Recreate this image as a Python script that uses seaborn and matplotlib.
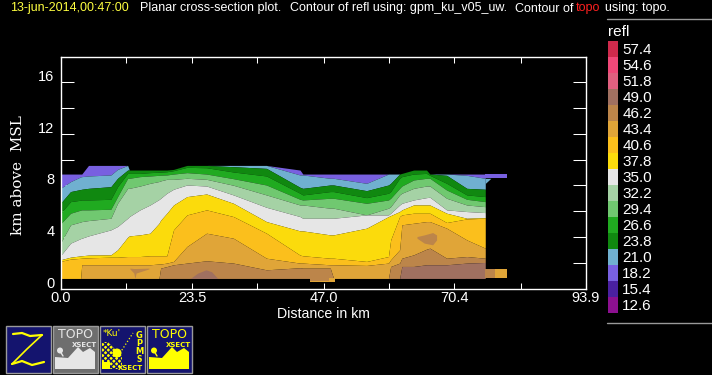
import numpy as np
import matplotlib
matplotlib.use("Agg")
import matplotlib.pyplot as plt
from matplotlib.colors import ListedColormap
from matplotlib.patches import Rectangle, Polygon, Circle
import seaborn as sns

# ---------- data ----------
levels = [57.4, 54.6, 51.8, 49.0, 46.2, 43.4, 40.6, 37.8, 35.0, 32.2, 29.4, 26.6, 23.8, 21.0, 18.2, 15.4, 12.6]
level_colors = ["#CF2A4C", "#F04878", "#E0607F", "#A07060", "#BC854A", "#E0A538", "#FBBF1C", "#FBDB0C", "#E6E6E6",
                "#A5D2A5", "#70C870", "#20AA20", "#108810", "#70B0D0", "#7860E0", "#4A20A0", "#8C1090"]
dist = [0, 1.8, 3.6, 3.8, 5, 9, 10.2, 12, 12.3, 14.2, 16, 17.6, 17.9, 19,
        20.2, 22.6, 26.1, 30.9, 36.8, 42.8, 43.3, 48.2, 48.8, 54.7, 58.6, 59.0,
        60.6, 61.0, 63.1, 65.4, 66, 69, 72.6, 75.9]
top_182 = [8.88,8.88,8.88,8.88,9.55,9.55,9.55,9.55,9.19,9.19,9.19,9.19,9.19,9.19,
           9.24,9.55,9.55,9.55,9.55,9.19,8.88,8.88,8.88,8.88,8.88,8.88,8.88,8.93,9.19,9.19,8.88,8.88,8.88,8.88]
top_210 = [7.77,8.29,8.66,8.68,8.73,8.81,9.24,9.55,9.19,9.19,9.19,9.19,9.19,9.19,
           9.24,9.55,9.55,9.55,9.55,8.81,8.81,8.55,8.55,8.16,8.88,8.88,8.88,8.93,9.19,9.19,8.88,8.88,8.78,8.55]
top_238 = [6.61,7.52,7.68,7.70,7.77,7.90,8.55,9.19,9.19,9.19,9.19,9.19,9.19,9.19,
           9.24,9.55,9.55,9.45,9.32,7.85,7.77,8.03,8.03,7.59,8.03,8.16,8.88,8.93,9.19,9.19,8.88,8.78,7.77,7.70]
top_266 = [5.84,6.74,6.85,6.87,6.87,6.92,7.90,8.93,8.93,8.93,8.99,9.02,9.03,9.06,
           9.14,9.40,9.37,9.04,8.73,7.39,7.26,7.52,7.52,7.05,7.39,7.52,8.55,8.68,8.88,8.93,8.78,8.16,7.26,7.13]
top_294 = [5.01,5.84,6.08,6.10,6.10,6.15,7.13,8.55,8.55,8.68,8.73,8.78,8.79,8.81,
           8.88,8.99,8.88,8.52,8.03,6.92,6.87,7.00,7.00,6.61,6.87,7.00,7.77,7.95,8.42,8.55,8.55,7.64,6.92,6.74]
top_322 = [3.52,4.94,5.16,5.19,5.27,5.45,6.61,7.77,7.77,7.95,8.16,8.30,8.35,8.47,
           8.47,8.55,8.47,8.01,7.26,6.48,6.48,6.23,6.23,5.71,6.23,6.35,7.26,7.39,7.77,7.95,7.95,7.00,6.48,6.35]
top_350 = [2.54,3.52,3.87,3.90,4.08,4.55,4.81,5.45,5.58,6.10,6.48,6.90,7.00,7.39,
           7.70,8.03,7.95,7.26,6.30,5.58,5.45,5.45,5.45,5.71,5.71,5.84,6.48,6.61,6.87,7.05,7.08,6.10,5.97,5.89]
top_378 = [2.23,2.43,2.53,2.54,2.59,2.61,3.00,3.98,4.08,4.16,4.29,5.06,5.30,5.84,
           6.48,7.13,7.33,6.61,5.19,4.47,4.47,4.16,4.16,4.68,5.58,5.66,5.97,6.10,6.48,6.48,6.48,5.84,5.45,5.50]
top_406 = [2.10,2.28,2.34,2.35,2.38,2.43,2.43,2.48,2.48,2.48,2.54,2.54,2.54,2.54,
           4.55,5.71,6.10,5.58,4.29,2.59,2.54,2.35,2.35,2.10,2.48,3.77,5.58,5.71,5.84,5.84,5.84,5.12,5.40,5.45]
top_434 = [.78,.78,.78,1.84,1.84,1.84,1.84,1.84,1.84,1.84,1.84,1.90,1.90,1.97,
           2.10,3.26,4.29,3.90,2.35,1.97,1.97,1.84,1.84,1.79,1.97,2.23,3.00,4.94,5.06,5.19,5.19,4.68,3.77,3.13]
top_462 = [.78,.78,.78,.78,.78,.78,.78,.78,.78,.78,.78,.78,1.58,1.70,
           1.84,1.97,2.15,1.97,1.45,1.61,1.58,1.58,.78,.78,.78,1.71,1.97,2.35,2.61,3.05,3.13,2.35,2.48,2.35]
top_490 = [.78]*27 + [1.71,1.71,1.84,1.84,1.84,1.97,2.02]
floor_km = [.78]*34
# isolated cells
cell_a_x, cell_a_top, cell_a_bot = [12.4,13.1,13.3,13.5,15.8], [1.58,1.55,1.55,1.55,1.58], [1.52,1.2,.78,1.2,1.52]
cell_b_x, cell_b_top, cell_b_bot = [63.7,65,66.5,67.2], [4.03,4.16,4.34,4.16], [3.90,3.52,3.39,3.77]
cell_c_x, cell_c_top, cell_c_bot = [23.2,24.5,26,27,28.1], [.78,1.19,1.45,1.3,.78], [.78,.78,.78,.78,.78]
under_x, under_bot = [44.6,49.0], [.47,.47]
under2_x, under2_bot = [44.6,47.9], [.62,.62]
x_ticks = [0.0, 23.5, 47.0, 70.4, 93.9]
x_minor = [11.74, 35.2, 58.7, 82.2]
y_ticks = [2, 4, 6, 8, 10, 12, 14, 16]
y_labels = [0, 4, 8, 12, 16]

# ---------- style ----------
sns.set_theme(style="dark", rc={"figure.facecolor": "black", "axes.facecolor": "black", "savefig.facecolor": "black",
                                "axes.edgecolor": "white", "text.color": "white", "xtick.color": "white",
                                "ytick.color": "white", "axes.grid": False})
plt.rcParams["font.family"] = ["Liberation Sans", "DejaVu Sans"]
W, H = 712, 375
fig = plt.figure(figsize=(W/100, H/100), dpi=100)

def box(l, t, r, b):
    return [l/W, 1-b/H, (r-l)/W, (b-t)/H]

ax = fig.add_axes(box(60.5, 56.5, 586, 288.5))
ax.set_xlim(0, 93.9); ax.set_ylim(0, 18)
for s in ax.spines.values():
    s.set_color("white"); s.set_linewidth(1)
palette = dict(zip(levels, sns.color_palette(level_colors)))

d = np.array(dist)
stack = [(18.2, top_182, top_210), (21.0, top_210, top_238), (23.8, top_238, top_266), (26.6, top_266, top_294),
         (29.4, top_294, top_322), (32.2, top_322, top_350), (35.0, top_350, top_378), (37.8, top_378, top_406),
         (40.6, top_406, top_434), (43.4, top_434, top_462), (46.2, top_462, top_490), (49.0, top_490, floor_km)]
for lev, upper, lower in stack:
    ax.fill_between(d, lower, upper, color=palette[lev], lw=0)
ax.fill_between(cell_a_x, cell_a_bot, cell_a_top, color=palette[46.2], lw=0)
ax.fill_between(cell_b_x, cell_b_bot, cell_b_top, color=palette[46.2], lw=0)
ax.fill_between(cell_c_x, cell_c_bot, cell_c_top, color=palette[49.0], lw=0)
ax.fill_between(under_x, under_bot, [.78, .78], color=palette[43.4], lw=0)
ax.fill_between(under2_x, under2_bot, [.78, .78], color=palette[46.2], lw=0)
# topography mask and the strips around it
ax.fill_between([75.9, 79.7], [8.55, 8.55], [8.88, 8.88], color=palette[18.2], lw=0)
ax.fill_between([75.9, 76.9], [8.15, 8.55], [8.55, 8.55], color=palette[21.0], lw=0)
ax.fill_between([75.9, 77.7], [.78, .78], [1.53, 1.53], color=palette[46.2], lw=0)
ax.fill_between([77.7, 79.7], [.78, .78], [1.53, 1.53], color=palette[43.4], lw=0)

# ticks drawn inside on all four sides
ax.set_xticks(sorted(x_ticks + x_minor)); ax.set_yticks(y_ticks)
ax.tick_params(axis="x", which="major", direction="in", length=4.5, width=.75, top=True, bottom=True, labelbottom=False, color="white")
ax.tick_params(axis="y", which="major", direction="in", length=9.5, width=.75, left=True, right=True, labelleft=False, color="white")
for v in x_ticks:
    ax.annotate(f"{v:.1f}", (v, 0), xycoords="data", xytext=(0, -3), textcoords="offset pixels",
                ha="center", va="top", fontsize=10.5, color="white", annotation_clip=False)
for v in y_labels:
    ax.annotate(f"{v}", (0, v), xycoords="data", xytext=(-6, 5), textcoords="offset pixels",
                ha="right", va="center", fontsize=10.5, color="white", annotation_clip=False)

# overlay in pixel coordinates for texts and icons
ov = fig.add_axes([0, 0, 1, 1], facecolor="none")
ov.set_xlim(0, W); ov.set_ylim(H, 0); ov.axis("off")
ov.text(277, 314, "Distance in km", ha="left", va="center", fontsize=10.2, color="white")
ov.text(18, 175, "km above  MSL", rotation=90, ha="center", va="center", fontsize=11, color="white", family=["DejaVu Serif"])
for x0, s, c in [(10, "13-jun-2014,00:47:00", "#FFFF40"),
                 (140, "Planar cross-section plot.", "white"),
                 (290, "Contour of refl using: gpm_ku_v05_uw.", "white"),
                 (515, "Contour of", "white"), (576, "topo", "#FF2020"), (605, "using: topo.", "white")]:
    ov.text(x0, 8.5, s, ha="left", va="center", fontsize=9, color=c)
ov.plot([607, 712], [19, 19], color="#999999", lw=1)
ov.plot([607, 712], [323, 323], color="#999999", lw=1)
ov.text(608, 32, "refl", ha="left", va="center", fontsize=11, color="white")

# colour scale
cax = fig.add_axes(box(608, 41, 618, 313))
sns.heatmap(np.array(levels).reshape(-1, 1), ax=cax, cmap=ListedColormap(level_colors[::-1]), cbar=False,
            xticklabels=False, yticklabels=[f"{v:.1f}" for v in levels], linewidths=0)
cax.yaxis.tick_right()
cax.tick_params(axis="y", length=0, pad=3, labelsize=11, labelcolor="white", labelrotation=0)

# icon buttons
NAVY, GREY, YEL = "#14146E", "#9A9A9A", "#FFFF00"
for x0, x1, face in [(5, 50.5, NAVY), (52, 97.5, "#6E6E6E"), (99, 144.5, NAVY), (146, 191.5, NAVY)]:
    ov.add_patch(Rectangle((x0+.5, 325.5), x1-x0, 47, fc=face, ec=GREY, lw=1))
ov.plot([13, 22, 30, 42], [334, 333, 336, 335], color=YEL, lw=1.6)
ov.plot([42, 27, 12], [335, 349, 364], color=YEL, lw=1.2)
ov.plot([12, 22, 32, 44], [364, 361, 365, 362], color=YEL, lw=1.6)
ridge_x = [0, 13, 23, 28, 35, 40]
ridge_y = [12, 11, 22, 17, 21, 17]
for x0, c in [(55, "#E6E6E6"), (149, YEL)]:
    pts = [(x0, 369)] + [(x0+a, 369-b) for a, b in zip(ridge_x, ridge_y)] + [(x0+40, 369)]
    ov.add_patch(Polygon(pts, fc=c, ec="none"))
    ov.text(x0+20, 335, "TOPO", ha="center", va="center", fontsize=9, color=c, family="DejaVu Sans")
    ov.text(x0+29, 345, "XSECT", ha="center", va="center", fontsize=5, color=c, family="DejaVu Sans", weight="bold")
    ov.add_patch(Circle((x0+5, 350.5), 3, fc=c, ec="none"))
    ov.plot([x0+5, x0+8], [351, 356], color=c, lw=1)
# GPM-S icon
ov.add_patch(Polygon([(102, 342), (108, 342), (122, 356), (122, 369), (102, 369)], fc=YEL, ec=NAVY, lw=0, hatch="xxxxxx"))
ov.add_patch(Circle((117, 353), 4.5, fc=YEL, ec="none"))
ov.add_patch(Rectangle((102, 362), 8, 7, fc=YEL, ec="none"))
ov.text(112, 334, "*Ku'", ha="center", va="center", fontsize=6.5, color=YEL, family="DejaVu Sans")
ov.plot([120, 133], [353, 333], color=YEL, lw=.9, ls=":")
for j, s in enumerate("GPM"):
    ov.text(139, 336+7.5*j, s, ha="center", va="center", fontsize=6, color=YEL, family="DejaVu Sans", weight="bold")
ov.text(139, 359.5, "S", ha="center", va="center", fontsize=5.5, color=YEL, family="DejaVu Sans", weight="bold")
ov.text(130, 367.5, "XSECT", ha="center", va="center", fontsize=5, color=YEL, family="DejaVu Sans", weight="bold")

fig.savefig("out.png", dpi=100, facecolor="black")
